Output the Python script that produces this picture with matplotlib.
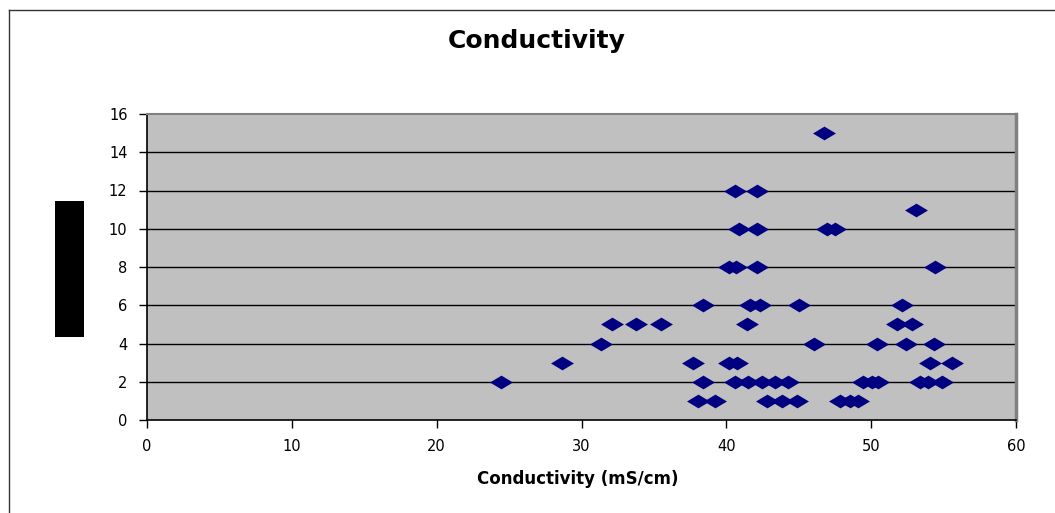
import numpy as np
import matplotlib
matplotlib.use('Agg')
import matplotlib.pyplot as plt
from matplotlib.patches import Rectangle
from matplotlib.lines import Line2D
from matplotlib.path import Path

# Conductivity readings (mS/cm) and how many times each was counted
conductividade = [38.07, 39.23, 42.80, 43.83, 44.90, 47.86, 48.55, 49.12,
                  24.45, 38.42, 40.61, 41.53, 42.45, 43.37, 44.29, 49.47, 50.05, 50.50, 53.38, 53.92, 54.88,
                  28.66, 37.69, 40.21, 40.73, 54.07, 55.57,
                  31.35, 46.02, 50.39, 52.40, 54.35,
                  32.09, 33.79, 35.50, 41.42, 51.77, 52.81,
                  38.42, 41.60, 42.33, 45.05, 52.16,
                  40.15, 40.68, 42.11, 54.40,
                  40.88, 42.11, 46.94, 47.51,
                  53.11,
                  40.59, 42.11,
                  46.75]
contagens = [1, 1, 1, 1, 1, 1, 1, 1,
             2, 2, 2, 2, 2, 2, 2, 2, 2, 2, 2, 2, 2,
             3, 3, 3, 3, 3, 3,
             4, 4, 4, 4, 4,
             5, 5, 5, 5, 5, 5,
             6, 6, 6, 6, 6,
             8, 8, 8, 8,
             10, 10, 10, 10,
             11,
             12, 12,
             15]

x_ticks = [0, 10, 20, 30, 40, 50, 60]
y_ticks = [0, 2, 4, 6, 8, 10, 12, 14, 16]

W, H = 1055, 513
fig = plt.figure(figsize=(W / 100, H / 100), dpi=100)
fig.patch.set_facecolor('white')

ax = fig.add_axes([147 / W, 1 - 420 / H, (1016 - 147) / W, (420 - 114) / H])
ax.set_facecolor('#c0c0c0')

# losango achatado (mais largo que alto)
losango = Path([(-1, 0), (0, 0.6), (1, 0), (0, -0.6), (-1, 0)],
               [Path.MOVETO, Path.LINETO, Path.LINETO, Path.LINETO, Path.CLOSEPOLY])
ax.plot(conductividade, contagens, linestyle='none', marker=losango, markersize=16.5,
        color='#000080', markeredgewidth=0, zorder=3)

ax.set_xlim(0, 60)
ax.set_ylim(0, 16)
ax.set_xticks(x_ticks)
ax.set_yticks(y_ticks)
ax.tick_params(axis='both', direction='out', length=6, width=1, color='black',
               labelsize=10.5, pad=8)
for y in y_ticks[1:-1]:
    ax.axhline(y, color='black', linewidth=1, zorder=1)

ax.spines['left'].set_color('black')
ax.spines['bottom'].set_color('black')
ax.spines['left'].set_linewidth(1.2)
ax.spines['bottom'].set_linewidth(1.2)
ax.spines['top'].set_color('#808080')
ax.spines['top'].set_linewidth(1.5)
ax.spines['right'].set_color('#808080')
ax.spines['right'].set_linewidth(2.5)

fig.text(537 / W, 1 - 41 / H, 'Conductivity', ha='center', va='center',
         fontsize=18, fontweight='bold')
fig.text(578 / W, 1 - 479 / H, 'Conductivity (mS/cm)', ha='center', va='center',
         fontsize=12, fontweight='bold')

# bloco preto no lugar do título do eixo y
fig.patches.append(Rectangle((55 / W, 1 - 337 / H), 29 / W, 136 / H,
                             transform=fig.transFigure, facecolor='black', edgecolor='none'))

# moldura do gráfico (só se vê o lado esquerdo e o de cima)
fig.lines.append(Line2D([9 / W, 9 / W], [0, 1 - 10 / H], transform=fig.transFigure,
                        color='#333333', linewidth=1))
fig.lines.append(Line2D([9 / W, 1], [1 - 10 / H, 1 - 10 / H], transform=fig.transFigure,
                        color='#333333', linewidth=1))

plt.savefig('out.png', dpi=100)
